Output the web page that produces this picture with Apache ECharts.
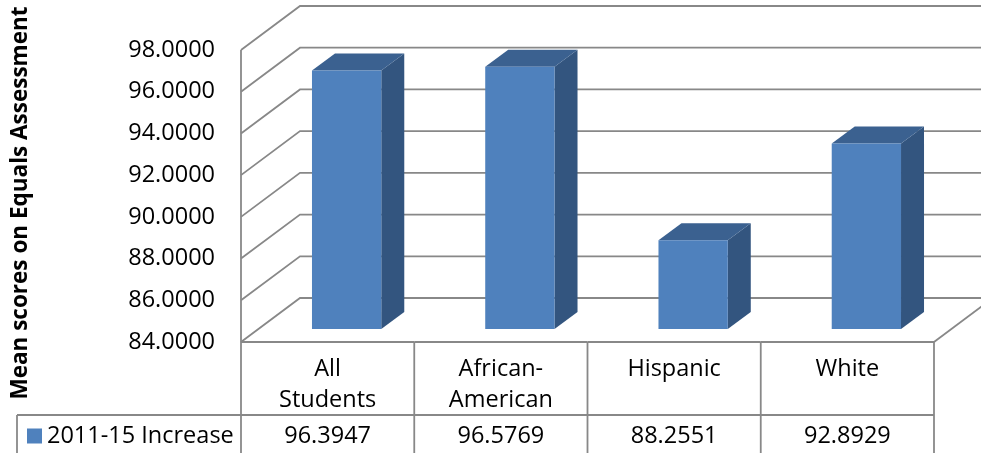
<!DOCTYPE html>
<html>
<head>
<meta charset="utf-8">
<script src="https://cdn.jsdelivr.net/npm/echarts@6/dist/echarts.min.js"></script>
<style>
  html, body { margin: 0; padding: 0; background: #fff; }
  #chart { width: 981px; height: 453px; }
</style>
</head>
<body>
<div id="chart"></div>
<script>
// Mean scores per student group
const categories = ['All\nStudents', 'African-\nAmerican', 'Hispanic', 'White'];
const seriesName = '2011-15 Increase';
const scores = [96.3947, 96.5769, 88.2551, 92.8929];
const yTicks = [84, 86, 88, 90, 92, 94, 96, 98];
const yTitle = 'Mean scores on Equals Assessment';

const FONT = '"Open Sans", sans-serif';
const LINE = '#888888';
const BAR_FRONT = '#4F81BD';
const BAR_SIDE = '#33557F';
const BAR_TOP = '#3B6190';

// Oblique depth shifts (pixels) used for the pseudo-3D frame and boxes
const WALL_SHIFT = [59, -44];
const BAR_NEAR = [19, -13];
const BAR_FAR = [42, -30];
const HEADER_ROW = 73;
const TABLE_DEPTH = 112;
const LEGEND_CELL = 224;

const chart = echarts.init(document.getElementById('chart'), null, { renderer: 'canvas' });

function lineEl(points) {
  return {
    type: 'polyline',
    shape: { points: points },
    style: { stroke: LINE, lineWidth: 1.8, fill: null }
  };
}

function bandInfo(api, idx, v) {
  const p = api.coord([idx, v]);
  const band = api.size([1, 0])[0];
  return { p: p, band: band };
}

// Back wall, left wall and floor gridlines
function renderGridline(params, api) {
  const v = api.value(1);
  const { p, band } = bandInfo(api, 0, v);
  const x0 = p[0] - band / 2;
  const x1 = x0 + band * categories.length;
  const y = p[1];
  const children = [
    lineEl([[x0, y], [x0 + WALL_SHIFT[0], y + WALL_SHIFT[1]], [x1 + WALL_SHIFT[0] + 20, y + WALL_SHIFT[1]]])
  ];
  if (v === yTicks[0]) {
    children.push(lineEl([[x1, y], [x1 + WALL_SHIFT[0], y + WALL_SHIFT[1]]]));
  }
  return { type: 'group', children: children };
}

// Boxes for each group
function renderBar(params, api) {
  const i = api.value(0);
  const v = api.value(1);
  const base = api.coord([i, yTicks[0]]);
  const top = api.coord([i, v]);
  const bw = api.size([1, 0])[0] * 0.4;
  const xl = base[0] + BAR_NEAR[0] - bw / 2;
  const xr = xl + bw;
  const yt = top[1] + BAR_NEAR[1];
  const yb = base[1] + BAR_NEAR[1];
  const dx = BAR_FAR[0] - BAR_NEAR[0];
  const dy = BAR_FAR[1] - BAR_NEAR[1];
  return {
    type: 'group',
    children: [
      { type: 'polygon', shape: { points: [[xr, yt], [xr + dx, yt + dy], [xr + dx, yb + dy], [xr, yb]] },
        style: { fill: BAR_SIDE } },
      { type: 'polygon', shape: { points: [[xl, yt], [xr, yt], [xr + dx, yt + dy], [xl + dx, yt + dy]] },
        style: { fill: BAR_TOP } },
      { type: 'rect', shape: { x: xl, y: yt, width: bw, height: yb - yt },
        style: { fill: api.visual('color') } }
    ]
  };
}

// Data table under the plot
function renderTable(params, api) {
  const i = api.value(0);
  const v = api.value(1);
  const { p, band } = bandInfo(api, i, yTicks[0]);
  const top = api.coord([0, yTicks[yTicks.length - 1]])[1];
  const xl = p[0] - band / 2;
  const xr = p[0] + band / 2;
  const yf = p[1];
  const children = [
    lineEl([[xl, yf], [xr, yf]]),
    lineEl([[xl, yf + HEADER_ROW], [xr, yf + HEADER_ROW]]),
    lineEl([[xr, yf], [xr, yf + TABLE_DEPTH]]),
    {
      type: 'text',
      style: {
        x: p[0], y: yf + 94, text: v.toFixed(4), align: 'center', verticalAlign: 'middle',
        font: '23.5px ' + FONT, fill: '#000'
      }
    }
  ];
  if (i === 0) {
    children.push(lineEl([[xl, top], [xl, yf + TABLE_DEPTH]]));
    children.push(lineEl([[xl - LEGEND_CELL, yf + HEADER_ROW], [xl, yf + HEADER_ROW]]));
    children.push(lineEl([[xl - LEGEND_CELL, yf + HEADER_ROW], [xl - LEGEND_CELL, yf + TABLE_DEPTH]]));
  }
  return { type: 'group', children: children };
}

const option = {
  animation: false,
  backgroundColor: '#fff',
  grid: { left: 241, right: 47, top: 50, bottom: 111, containLabel: false, outerBoundsMode: 'none' },
  graphic: [
    {
      type: 'text',
      x: 21, y: 203,
      rotation: Math.PI / 2,
      style: {
        text: yTitle, align: 'center', verticalAlign: 'middle',
        font: 'bold 22.5px ' + FONT, fill: '#000'
      }
    }
  ],
  legend: {
    data: [seriesName],
    left: 27, top: 424, padding: 0,
    icon: 'rect', itemWidth: 15, itemHeight: 15, itemGap: 6,
    textStyle: { fontFamily: FONT, fontSize: 23.5, color: '#000', lineHeight: 24 }
  },
  xAxis: {
    type: 'category',
    data: categories,
    axisLine: { show: false },
    axisTick: { show: false },
    axisLabel: {
      fontFamily: FONT, fontSize: 23.5, color: '#000', lineHeight: 31, margin: 12, interval: 0
    },
    splitLine: { show: false }
  },
  yAxis: {
    type: 'value',
    min: yTicks[0],
    max: yTicks[yTicks.length - 1],
    interval: yTicks[1] - yTicks[0],
    axisLine: { show: false },
    axisTick: { show: false },
    splitLine: { show: false },
    axisLabel: {
      fontFamily: FONT, fontSize: 23.5, color: '#000', margin: 26,
      padding: [5, 0, 0, 0],
      formatter: v => v.toFixed(4)
    }
  },
  series: [
    {
      type: 'custom',
      name: 'grid',
      renderItem: renderGridline,
      data: yTicks.map(v => [0, v]),
      encode: { x: 0, y: 1 },
      clip: false,
      silent: true,
      z: 1
    },
    {
      type: 'custom',
      name: 'table',
      renderItem: renderTable,
      data: scores.map((v, i) => [i, v]),
      encode: { x: 0, y: 1 },
      clip: false,
      silent: true,
      z: 1
    },
    {
      type: 'custom',
      name: seriesName,
      renderItem: renderBar,
      itemStyle: { color: BAR_FRONT },
      data: scores.map((v, i) => [i, v]),
      encode: { x: 0, y: 1 },
      clip: false,
      z: 3
    }
  ]
};

chart.setOption(option);
</script>
</body>
</html>
